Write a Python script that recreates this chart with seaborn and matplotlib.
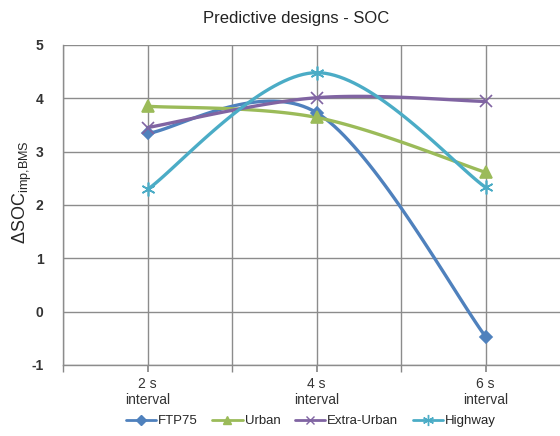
import numpy as np
import pandas as pd
import matplotlib
matplotlib.use("Agg")
import matplotlib.pyplot as plt
import seaborn as sns

# Donnees
categories = ["2 s\ninterval", "4 s\ninterval", "6 s\ninterval"]
ftp75 = [3.34, 3.73, -0.47]
urban = [3.85, 3.64, 2.61]
extra_urban = [3.45, 4.01, 3.94]
highway = [2.29, 4.48, 2.33]
yticks = [-1, 0, 1, 2, 3, 4, 5]

series = {
    "FTP75": (ftp75, "#4F81BD", "D", 6),
    "Urban": (urban, "#9BBB59", "^", 8),
    "Extra-Urban": (extra_urban, "#8064A2", "x", 8),
    "Highway": (highway, "#4BACC6", (6, 2, 0), 10),
}


def lissage_excel(x, y, n=40):
    """Courbe de Bezier facon Excel (lissage des lignes)."""
    x = np.asarray(x, float)
    y = np.asarray(y, float)
    px = np.concatenate([[x[0]], x, [x[-1]]])
    py = np.concatenate([[y[0]], y, [y[-1]]])
    xs, ys = [], []
    t = np.linspace(0, 1, n)
    for i in range(1, len(x)):
        p0 = np.array([px[i], py[i]])
        p3 = np.array([px[i + 1], py[i + 1]])
        b1 = p0 + (p3 - np.array([px[i - 1], py[i - 1]])) / 6
        b2 = p3 - (np.array([px[i + 2], py[i + 2]]) - p0) / 6
        for k in range(2):
            c = ((1 - t) ** 3 * p0[k] + 3 * (1 - t) ** 2 * t * b1[k]
                 + 3 * (1 - t) * t ** 2 * b2[k] + t ** 3 * p3[k])
            (xs if k == 0 else ys).append(c)
    return np.concatenate(xs), np.concatenate(ys)


sns.set_theme(style="white")
plt.rcParams["font.family"] = ["Liberation Sans", "DejaVu Sans"]
plt.rcParams["mathtext.fontset"] = "custom"
plt.rcParams["mathtext.rm"] = "Liberation Sans"

fig = plt.figure(figsize=(5.6, 4.36), dpi=100)
ax = fig.add_axes([0.1125, 0.163, 0.8875, 0.734])

xpos = np.arange(len(categories))
rows = []
for name, (vals, color, marker, ms) in series.items():
    cx, cy = lissage_excel(xpos, vals)
    ax.plot(cx, cy, color=color, lw=2.4, zorder=3)
    for xi, v in zip(xpos, vals):
        rows.append({"x": xi, "y": v, "serie": name})

df = pd.DataFrame(rows)
for name, (vals, color, marker, ms) in series.items():
    sub = df[df["serie"] == name]
    sns.lineplot(data=sub, x="x", y="y", ax=ax, color=color, lw=0,
                 marker=marker, markersize=ms, markeredgecolor=color,
                 markeredgewidth=1.2, zorder=4)

# legende manuelle avec les memes styles
handles = [plt.Line2D([], [], color=c, lw=2, marker=m, markersize=ms * 0.8,
                      markeredgecolor=c) for (_, c, m, ms) in series.values()]
fig.legend(handles, list(series.keys()), loc="center", ncol=4,
           bbox_to_anchor=(0.555, 0.034), frameon=False, fontsize=9.5,
           handlelength=2.3, handletextpad=0.15, columnspacing=1.1)

ax.set_xlim(-0.5, 2.44)
ax.set_ylim(-1, 5)
ax.set_yticks(yticks)
ax.set_yticklabels([str(v) for v in yticks], fontsize=10, fontweight="bold",
                   color="#333333")
ax.set_xticks(xpos)
ax.set_xticklabels(categories, fontsize=10, color="#333333", linespacing=1.1)
ax.set_xticks([-0.5, 0.5, 1.5], minor=True)
ax.tick_params(axis="y", length=0, pad=14)
ax.tick_params(axis="x", which="both", direction="out", length=5,
               color="#888888", pad=4, bottom=True)
ax.grid(True, which="both", color="#8c8c8c", lw=1)
ax.set_axisbelow(True)
for s in ["top", "right"]:
    ax.spines[s].set_visible(False)
for s in ["left", "bottom"]:
    ax.spines[s].set_color("#8c8c8c")
    ax.spines[s].set_linewidth(1)

ax.set_xlabel("")
ax.set_ylabel(r"$\Delta$SOC$_{\mathrm{imp{,}BMS}}$", fontsize=13,
              va="center", ha="center")
ax.yaxis.set_label_coords(-0.082, 0.54)
fig.text(0.529, 0.958, "Predictive designs - SOC", ha="center", va="center",
         fontsize=12, color="#222222")

fig.savefig("out.png", dpi=100)
